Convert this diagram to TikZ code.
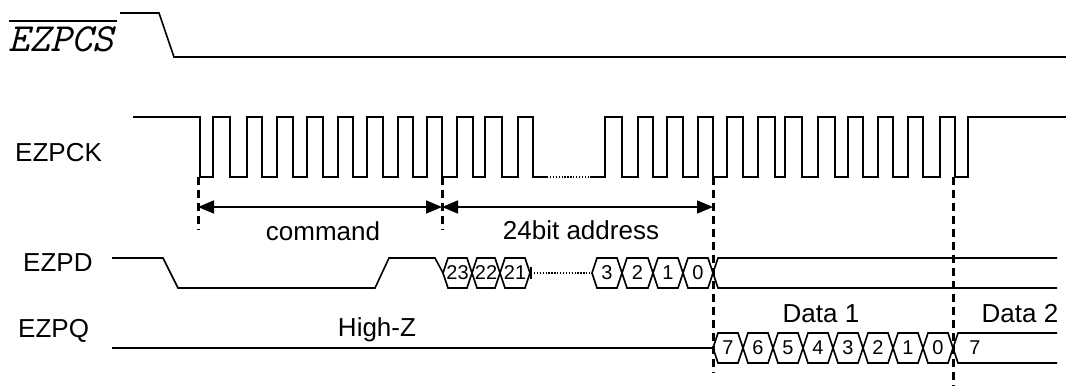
\documentclass[tikz,border=0pt]{standalone}
\usepackage{fontspec}
\setmainfont{Liberation Sans}
\usetikzlibrary{arrows.meta}
\tikzset{
  sig/.style={line width=1.6pt, line join=miter},
  guide/.style={line width=3pt, dash pattern=on 8pt off 5pt},
  dimline/.style={line width=1.6pt, {Triangle[length=16pt,width=13pt]}-{Triangle[length=16pt,width=13pt]}},
  lbl/.style={font=\fontsize{26}{30}\selectfont, inner sep=0pt},
  cellnum/.style={font=\fontsize{20}{22}\selectfont, inner sep=0pt},
  fine/.style={line width=1.3pt, dash pattern=on 1.3pt off 1.6pt},
}
\begin{document}
\begin{tikzpicture}[x=1pt,y=-1pt]
\useasboundingbox (0,0) rectangle (1066,386);

% ---------- EZPCS ----------
\node[inner sep=0pt, anchor=base west, font=\ttfamily\itshape\fontsize{40}{44}\selectfont] (cs) at (8,51) {EZPCS};
\draw[line width=1.6pt] (9,21) -- (117,21);
\draw[sig] (120,13) -- (159,13) -- (174,57) -- (1066,57);

% ---------- EZPCK ----------
\node[lbl, anchor=base west] (ck) at (15,161) {EZPCK};
\draw[sig] (133,117) -- (200,117) -- (200,177)
  \foreach \r/\f in {213/230,247/262,277/293,307/323,338/353,367/383,398/413,427/442,457/473,485/502,518/533}
  { -- (\r,177) -- (\r,117) -- (\f,117) -- (\f,177) } -- (547,177);
\draw[fine] (547,177) -- (590,177);
\draw[sig] (590,177) -- (605,177)
  \foreach \r/\f in {605/622,638/653,667/683,698/713,727/743,758/775,785/802,818/835,848/863,878/893,908/923,940/955}
  { -- (\r,177) -- (\r,117) -- (\f,117) -- (\f,177) } -- (968,177) -- (968,117) -- (1066,117);

% ---------- guides ----------
\draw[guide] (198,177) -- (198,230);
\draw[guide] (442,177) -- (442,230);
\draw[guide] (713,177) -- (713,373);
\draw[guide] (953,177) -- (953,386);

\coordinate (g1) at (198,207);
\coordinate (g2) at (442,207);
\coordinate (g3) at (713,207);
\draw[dimline] (g1) -- (g2);
\draw[dimline] (g2) -- (g3);
\node[lbl, anchor=base] (cmd) at (323,240) {command};
\node[lbl, anchor=base] (addr) at (581,239) {24bit address};

% ---------- EZPD ----------
\node[lbl, anchor=base west] (pd) at (23,271) {EZPD};
\draw[sig] (112,258) -- (163,258) -- (178,288) -- (375,288) -- (389,258) -- (435,258) -- (443,273);
\foreach \a/\b/\t/\n in {443/472/23/d23,472/500/22/d22,500/530/21/d21,592/622/3/d3,622/653/2/d2,653/683/1/d1,683/713/0/d0}{
  \draw[sig] (\a,273) -- (\a+5,258) -- (\b-5,258) -- (\b,273) -- (\b-5,288) -- (\a+5,288) -- cycle;
  \node[cellnum] (\n) at ({(\a+\b)/2},273) {\t};
}
\draw[sig] (531,267) -- (531,279);
\draw[fine] (531,273) -- (592,273);
\draw[sig] (713,273) -- (718,258) -- (1057,258);
\draw[sig] (713,273) -- (718,288) -- (1057,288);

% ---------- EZPQ ----------
\node[lbl, anchor=base west] (pq) at (18,337) {EZPQ};
\node[lbl, anchor=base] (hz) at (377,336) {High-Z};
\draw[sig] (112,348) -- (713,348);
\foreach \a/\b/\t/\n in {713/743/7/q7,743/773/6/q6,773/803/5/q5,803/833/4/q4,833/863/3/q3,863/893/2/q2,893/923/1/q1,923/953/0/q0}{
  \draw[sig] (\a,348) -- (\a+5,333) -- (\b-5,333) -- (\b,348) -- (\b-5,363) -- (\a+5,363) -- cycle;
  \node[cellnum] (\n) at ({(\a+\b)/2},348) {\t};
}
\draw[sig] (953,348) -- (958,333) -- (1057,333);
\draw[sig] (953,348) -- (958,363) -- (1057,363);
\node[cellnum] (n7) at (975,348) {7};
\node[lbl, anchor=base] (data1) at (821,322) {Data 1};
\node[lbl, anchor=base] (data2) at (1020,322) {Data 2};
\end{tikzpicture}
\end{document}
